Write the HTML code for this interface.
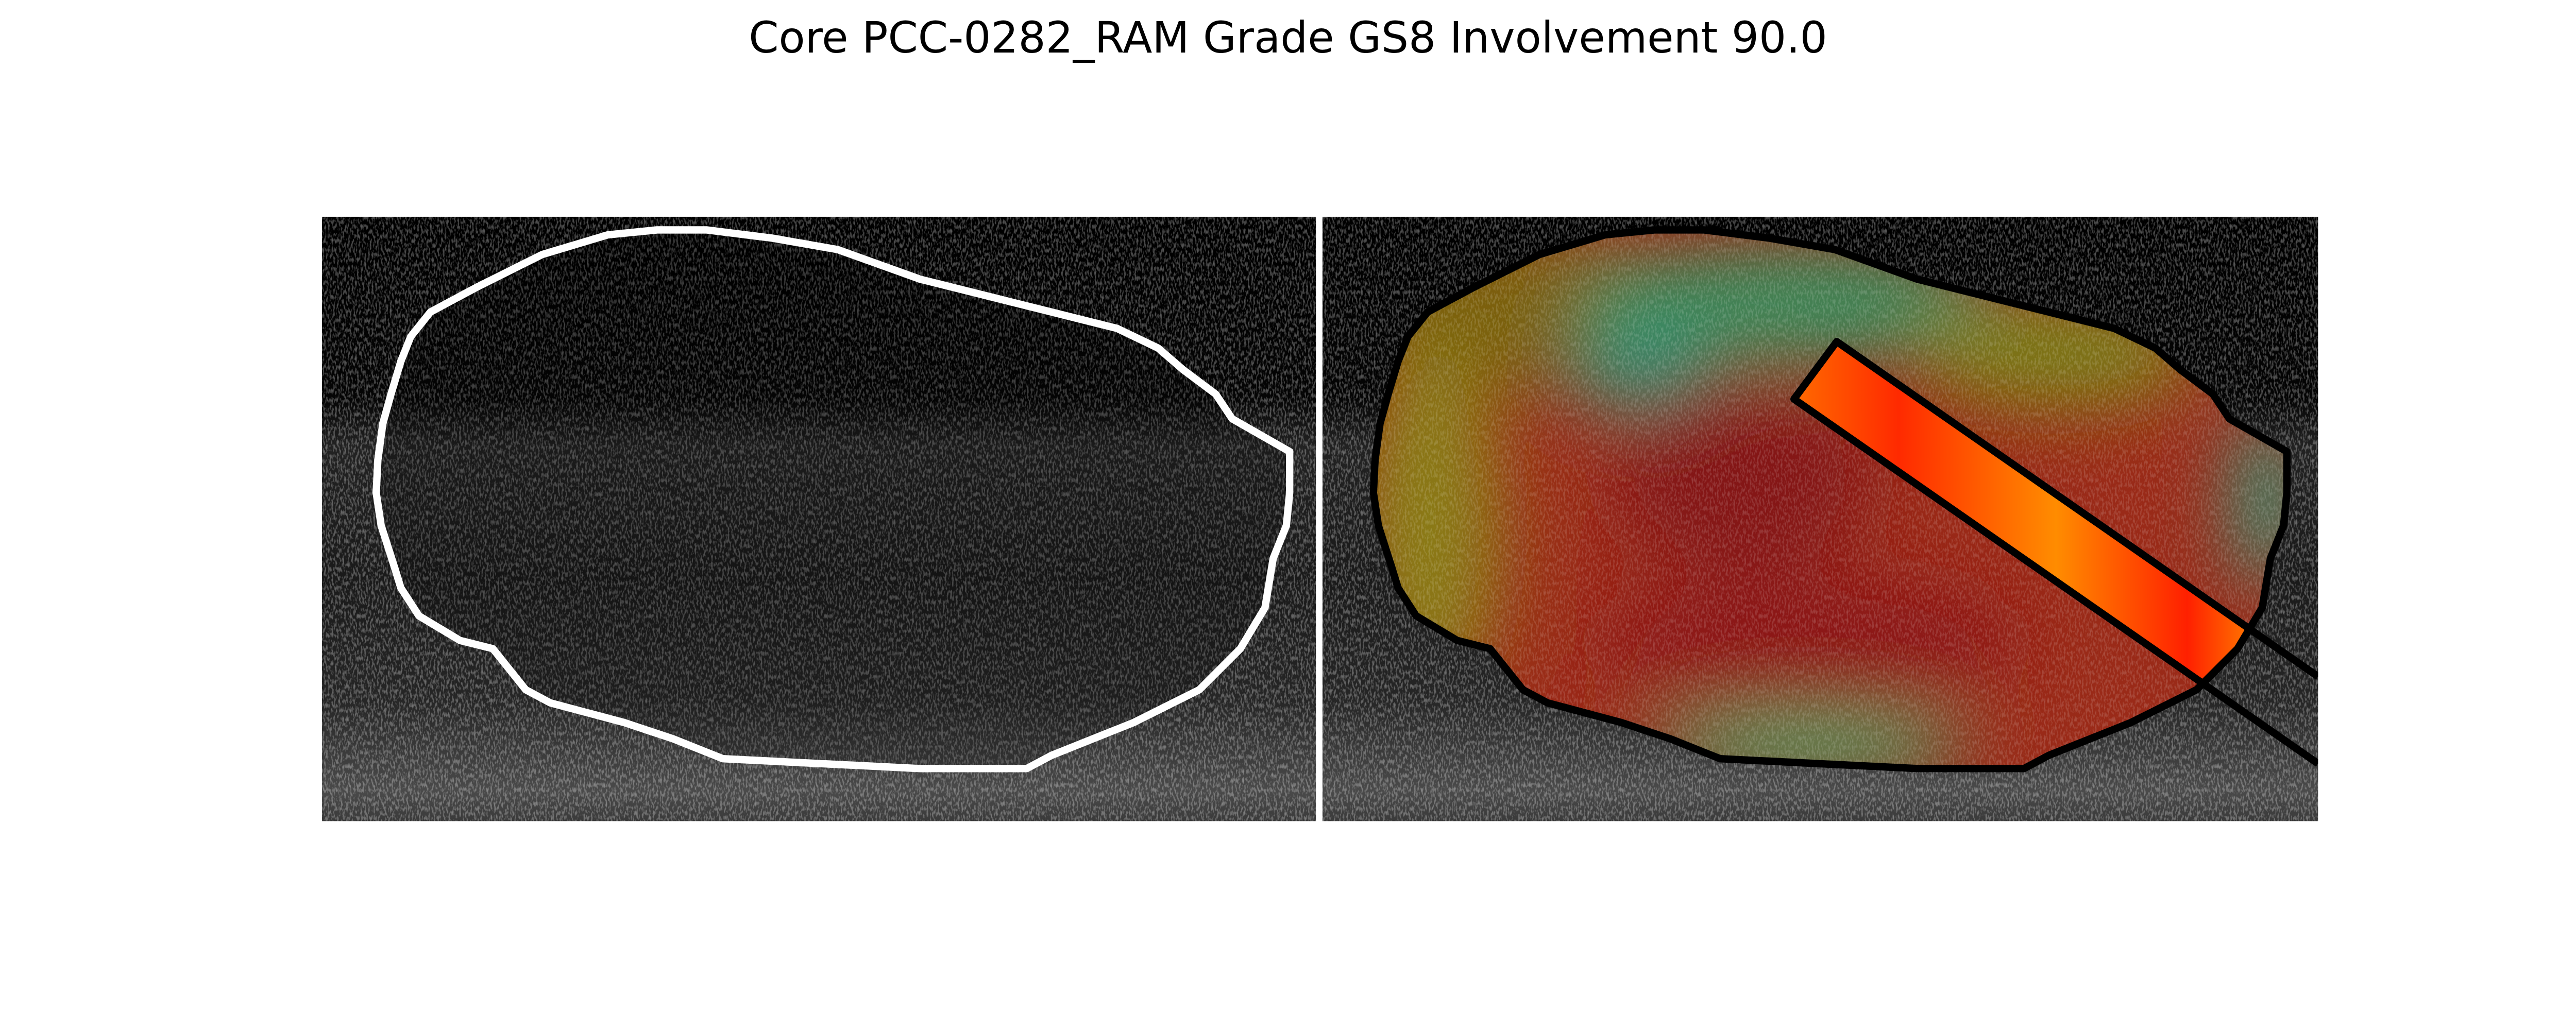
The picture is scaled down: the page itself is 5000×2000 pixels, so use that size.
<!DOCTYPE html>
<html><head><meta charset="utf-8">
<style>
html,body{margin:0;padding:0;background:#fff;}
svg{display:block;}
</style></head>
<body>
<svg width="5000" height="2000" viewBox="0 0 1568 627.2" preserveAspectRatio="none" xmlns="http://www.w3.org/2000/svg">
<defs>
  <filter id="noise" x="0" y="0" width="100%" height="100%">
    <feTurbulence type="fractalNoise" baseFrequency="0.9 0.35" numOctaves="2" seed="3" result="t"/>
    <feColorMatrix type="matrix" values="0 0 0 2 -1.0  0 0 0 2 -1.0  0 0 0 2 -1.0  0 0 0 0 1"/>
  </filter>
  <filter id="blur"><feGaussianBlur stdDeviation="22"/></filter>
  <linearGradient id="bg" x1="0" y1="0" x2="0" y2="1">
    <stop offset="0" stop-color="#000"/>
    <stop offset="0.3" stop-color="#050505"/>
    <stop offset="0.38" stop-color="#222"/>
    <stop offset="0.6" stop-color="#1a1a1a"/>
    <stop offset="0.8" stop-color="#262626"/>
    <stop offset="0.95" stop-color="#4a4a4a"/>
    <stop offset="1" stop-color="#3a3a3a"/>
  </linearGradient>
  <linearGradient id="needleg" x1="0" y1="0" x2="1" y2="0">
    <stop offset="0" stop-color="#ff6a00"/>
    <stop offset="0.2" stop-color="#ff2a00"/>
    <stop offset="0.5" stop-color="#ff8c00"/>
    <stop offset="0.75" stop-color="#ff2000"/>
    <stop offset="1" stop-color="#ffd000"/>
  </linearGradient>
  <path id="contour" d="M230,280 L233,258 L238,240 L244,220 L250,205 L262,190 L290,175 L330,155 L370,143 L400,140 L430,140 L470,145 L510,152 L560,170 L620,185 L680,200 L705,212 L720,225 L740,240 L750,255 L785,275 L785,300 L783,320 L775,340 L770,370 L755,395 L730,420 L690,440 L640,460 L625,468 L560,468 L500,465 L440,462 L410,450 L380,440 L335,428 L320,420 L300,395 L280,390 L255,375 L244,358 L240,345 L232,320 L229,300 Z"/>
  <clipPath id="clipR"><use href="#contour" transform="translate(607,0)"/></clipPath>
  <clipPath id="panelR"><rect x="805" y="132" width="606" height="368"/></clipPath>
</defs>

<text x="784" y="32" text-anchor="middle" font-family="DejaVu Sans, sans-serif" font-size="26.2" fill="#000">Core PCC-0282_RAM Grade GS8 Involvement 90.0</text>

<g>
  <rect x="196" y="132" width="605" height="368" fill="url(#bg)"/>
  <rect x="196" y="132" width="605" height="368" filter="url(#noise)" opacity="0.4" style="mix-blend-mode:screen"/>
  <use href="#contour" fill="#000" opacity="0.2"/>
  <use href="#contour" fill="none" stroke="#fff" stroke-width="4.5" stroke-linejoin="round"/>
</g>

<g>
  <rect x="805" y="132" width="606" height="368" fill="url(#bg)"/>
  <rect x="805" y="132" width="606" height="368" filter="url(#noise)" opacity="0.4" style="mix-blend-mode:screen"/>
  <g clip-path="url(#clipR)">
    <rect x="805" y="132" width="606" height="368" fill="#9a2a18"/>
    <g filter="url(#blur)">
      <ellipse cx="930" cy="190" rx="110" ry="50" fill="#7a6010"/>
      <ellipse cx="870" cy="320" rx="45" ry="110" fill="#8a7a18"/>
      <ellipse cx="1090" cy="185" rx="130" ry="35" fill="#3a8a5a"/>
      <ellipse cx="1000" cy="225" rx="45" ry="25" fill="#2f8a70"/>
      <ellipse cx="1250" cy="215" rx="90" ry="35" fill="#7a7a18"/>
      <ellipse cx="1380" cy="305" rx="22" ry="55" fill="#3a8a70"/>
      <ellipse cx="1100" cy="455" rx="100" ry="20" fill="#4a9a60"/>
      <ellipse cx="1060" cy="290" rx="80" ry="60" fill="#841414"/>
      <ellipse cx="1100" cy="390" rx="130" ry="40" fill="#8c1818"/>
    </g>
    <rect x="805" y="132" width="606" height="368" filter="url(#noise)" opacity="0.2" style="mix-blend-mode:screen"/>
    <polygon points="1118,208 1411,412 1411,465 1092,243" fill="url(#needleg)"/>
  </g>
  <use href="#contour" transform="translate(607,0)" fill="none" stroke="#000" stroke-width="4.5" stroke-linejoin="round"/>
  <g clip-path="url(#panelR)" stroke="#000" stroke-width="4.5" fill="none" stroke-linejoin="round">
    <polyline points="1411,412 1118,208 1092,243 1411,465"/>
  </g>
</g>
</svg>
</body></html>
